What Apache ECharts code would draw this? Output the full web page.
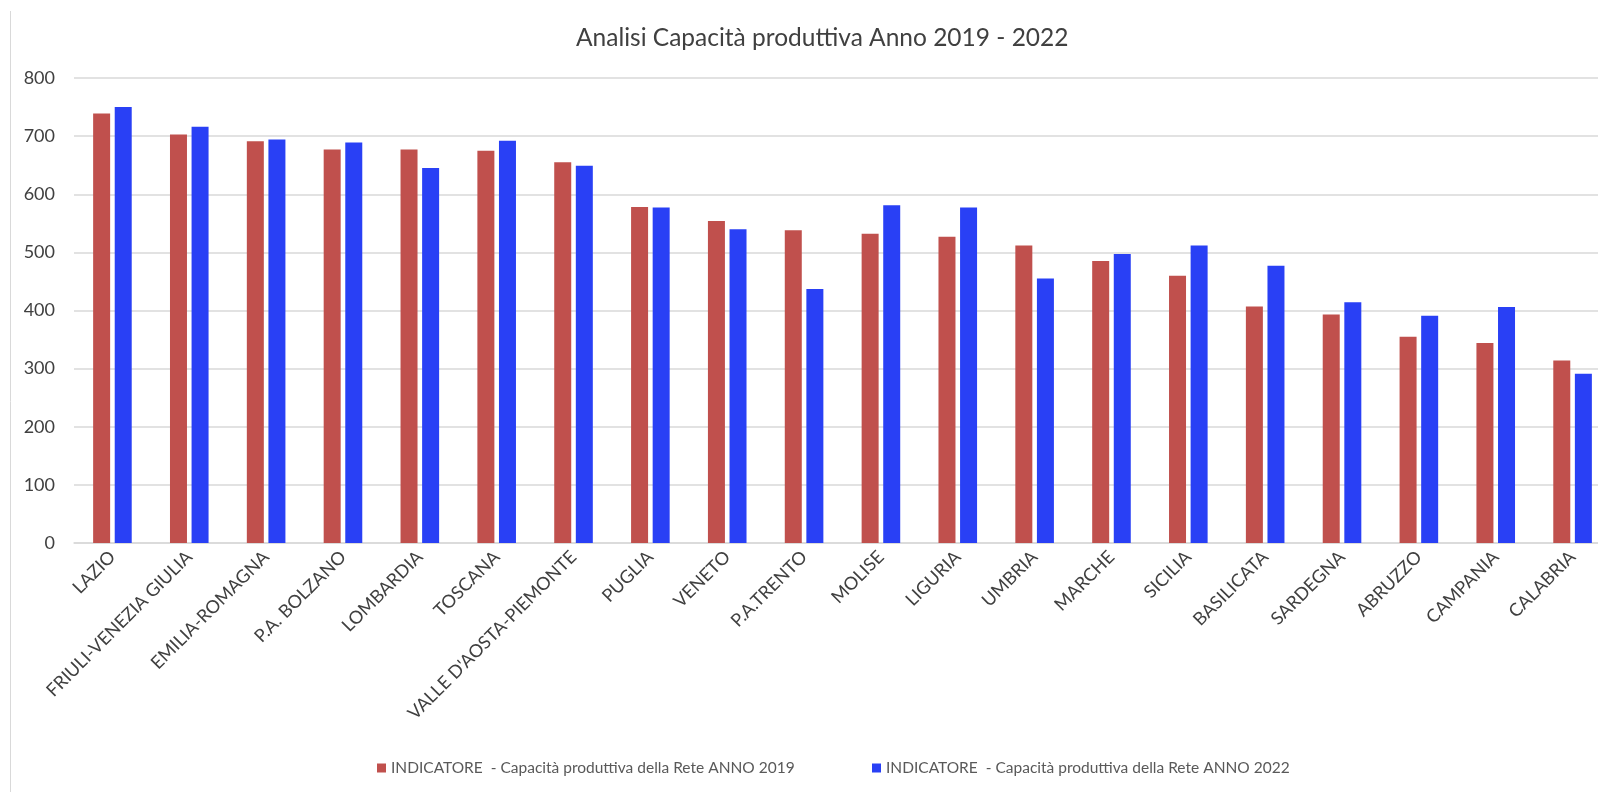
<!DOCTYPE html>
<html>
<head>
<meta charset="utf-8">
<script src="https://cdn.jsdelivr.net/npm/echarts@6/dist/echarts.min.js"></script>
<style>
html,body{margin:0;padding:0;background:#fff;}
#chart{width:1598px;height:792px;}
</style>
</head>
<body>
<div id="chart"></div>
<script>
const categories = ['LAZIO','FRIULI-VENEZIA GIULIA','EMILIA-ROMAGNA','P.A. BOLZANO','LOMBARDIA','TOSCANA','VALLE D\'AOSTA-PIEMONTE','PUGLIA','VENETO','P.A.TRENTO','MOLISE','LIGURIA','UMBRIA','MARCHE','SICILIA','BASILICATA','SARDEGNA','ABRUZZO','CAMPANIA','CALABRIA'];
const values2019 = [739,703,691,677,677,675,655,578,554,538,532,527,512,485,460,407,393,355,344,314];
const values2022 = [750,716,694,689,645,692,649,577,540,437,581,577,455,497,512,477,414,391,406,291];
const seriesNames = ['INDICATORE  - Capacità produttiva della Rete ANNO 2019','INDICATORE  - Capacità produttiva della Rete ANNO 2022'];
const yTicks = {min:0, max:800, interval:100};

const FONT = 'Lato';
const chart = echarts.init(document.getElementById('chart'));
chart.setOption({
  animation:false,
  textStyle:{fontFamily:FONT},
  title:{text:'Analisi Capacità produttiva Anno 2019 - 2022', left:571, top:21,
    textStyle:{fontFamily:FONT,fontSize:24.5,fontWeight:'normal',color:'#404040'}},
  graphic:[{type:'line',shape:{x1:10.5,y1:11,x2:10.5,y2:792},style:{stroke:'#d9d9d9',lineWidth:1}}],
  legend:[
    {data:[seriesNames[0]], left:372, top:755, itemWidth:9, itemHeight:9, icon:'rect', itemGap:6,
     textStyle:{fontFamily:FONT,fontSize:15.5,color:'#595959'}},
    {data:[seriesNames[1]], left:867, top:755, itemWidth:9, itemHeight:9, icon:'rect',
     textStyle:{fontFamily:FONT,fontSize:15.5,color:'#595959'}}
  ],
  grid:{left:74, top:78, width:1537, height:465, containLabel:false, outerBoundsMode:'none'},
  xAxis:{type:'category', data:categories,
    axisLine:{lineStyle:{color:'#d9d9d9',width:1.5}}, axisTick:{show:false},
    axisLabel:{rotate:45, interval:0, margin:11, fontFamily:FONT, fontSize:18, color:'#404040'}},
  yAxis:{type:'value', min:yTicks.min, max:yTicks.max, interval:yTicks.interval,
    axisLine:{show:false}, axisTick:{show:false},
    splitLine:{lineStyle:{color:'#d9d9d9',width:1.5}},
    axisLabel:{margin:19, fontFamily:FONT, fontSize:18, color:'#404040'}},
  series:[
    {name:seriesNames[0], type:'bar', data:values2019, barWidth:17, barGap:'27%', itemStyle:{color:'#C0504D'}},
    {name:seriesNames[1], type:'bar', data:values2022, barWidth:17, barGap:'27%', itemStyle:{color:'#2940F5'}}
  ]
});
</script>
</body>
</html>
